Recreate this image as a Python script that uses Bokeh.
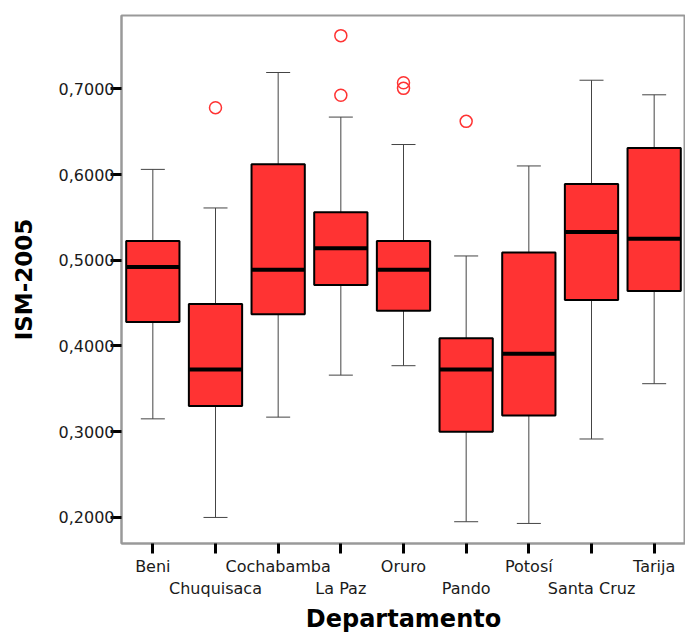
from bokeh.plotting import figure
from bokeh.models import FactorRange, Range1d, FixedTicker, ColumnDataSource, CategoricalAxis, CustomJSTickFormatter
from bokeh.embed import file_html
from bokeh.resources import INLINE

cats = ["Beni", "Chuquisaca", "Cochabamba", "La Paz", "Oruro", "Pando", "Potosí", "Santa Cruz", "Tarija"]
whisker_low = [0.315, 0.200, 0.317, 0.366, 0.377, 0.195, 0.193, 0.2915, 0.356]
q1 = [0.428, 0.330, 0.437, 0.471, 0.441, 0.300, 0.319, 0.4535, 0.464]
median = [0.492, 0.3725, 0.489, 0.514, 0.489, 0.3725, 0.391, 0.533, 0.525]
q3 = [0.5225, 0.449, 0.612, 0.556, 0.5225, 0.409, 0.509, 0.589, 0.631]
whisker_high = [0.606, 0.561, 0.719, 0.667, 0.635, 0.505, 0.610, 0.710, 0.693]
outlier_cat = ["Chuquisaca", "La Paz", "La Paz", "Oruro", "Oruro", "Pando"]
outlier_val = [0.678, 0.762, 0.6925, 0.707, 0.7005, 0.662]
y_ticks = [0.2, 0.3, 0.4, 0.5, 0.6, 0.7]
y_tick_labels = ["0,2000", "0,3000", "0,4000", "0,5000", "0,6000", "0,7000"]

src = ColumnDataSource(dict(cat=cats, lo=whisker_low, q1=q1, med=median, q3=q3, hi=whisker_high))
osrc = ColumnDataSource(dict(cat=outlier_cat, val=outlier_val))

p = figure(width=685, height=635, output_backend="svg", toolbar_location=None,
           x_range=FactorRange(factors=cats, range_padding=0, factor_padding=0),
           y_range=Range1d(0.1696, 0.7855),
           min_border_left=121, min_border_right=0, min_border_top=15, min_border_bottom=92)
p.xgrid.grid_line_color = None
p.ygrid.grid_line_color = None
p.outline_line_color = "#999999"
p.outline_line_width = 2
p.background_fill_color = "white"
p.border_fill_color = "white"

# whiskers
p.segment(x0="cat", y0="lo", x1="cat", y1="hi", source=src, line_color="#444444", line_width=1)
p.scatter(x="cat", y="lo", source=src, marker="dash", size=24, line_color="#444444", line_width=1)
p.scatter(x="cat", y="hi", source=src, marker="dash", size=24, line_color="#444444", line_width=1)
# boxes
p.vbar(x="cat", bottom="q1", top="q3", width=0.85, source=src,
       fill_color="#FF3333", line_color="black", line_width=2)
# medians
p.rect(x="cat", y="med", width=0.85, height=4, height_units="screen", source=src,
       fill_color="black", line_color=None)
# outliers
p.scatter(x="cat", y="val", source=osrc, marker="circle", size=12,
          fill_color=None, line_color="#FF3333", line_width=1.5)

tick_font = "DejaVu Sans"
# y axis
p.yaxis.ticker = FixedTicker(ticks=y_ticks)
p.yaxis.major_label_overrides = {t: l for t, l in zip(y_ticks, y_tick_labels)}
p.yaxis.minor_tick_line_color = None
p.yaxis.major_tick_in = 0
p.yaxis.major_tick_out = 11
p.yaxis.major_tick_line_width = 3
p.yaxis.major_tick_line_color = "black"
p.yaxis.axis_line_color = "#999999"
p.yaxis.axis_line_width = 2
p.yaxis.major_label_standoff = -4
p.yaxis.major_label_text_font = tick_font
p.yaxis.major_label_text_font_size = "16px"
p.yaxis.major_label_text_color = "#1a1a1a"
p.yaxis.axis_label = "ISM-2005"
p.yaxis.axis_label_text_font = tick_font
p.yaxis.axis_label_text_font_style = "bold"
p.yaxis.axis_label_text_font_size = "23px"
p.yaxis.axis_label_text_color = "black"
p.yaxis.axis_label_standoff = 19

# x axis: first row (even categories) with ticks
xa = p.xaxis[0]
xa.formatter = CustomJSTickFormatter(code="return (index % 2 == 0) ? tick : '';")
xa.major_tick_in = 0
xa.major_tick_out = 10
xa.major_tick_line_width = 3
xa.major_tick_line_color = "black"
xa.axis_line_color = "#999999"
xa.axis_line_width = 2
xa.major_label_standoff = 3
xa.major_label_text_font = tick_font
xa.major_label_text_font_size = "16px"
xa.major_label_text_color = "#1a1a1a"

# second row (odd categories), no ticks, carries the axis title
xb = CategoricalAxis()
xb.formatter = CustomJSTickFormatter(code="return (index % 2 == 1) ? tick : '';")
xb.major_tick_in = 0
xb.major_tick_out = 0
xb.major_tick_line_color = None
xb.axis_line_color = None
xb.major_label_standoff = 0
xb.major_label_text_font = tick_font
xb.major_label_text_font_size = "16px"
xb.major_label_text_color = "#1a1a1a"
xb.axis_label = "Departamento"
xb.axis_label_text_font = tick_font
xb.axis_label_text_font_style = "bold"
xb.axis_label_text_font_size = "24px"
xb.axis_label_text_color = "black"
xb.axis_label_standoff = 4
p.add_layout(xb, "below")

open("out.html", "w").write(file_html(p, INLINE))
